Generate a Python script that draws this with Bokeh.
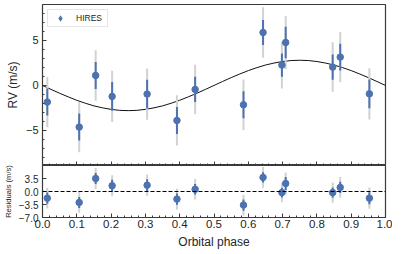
import numpy as np
from bokeh.plotting import figure
from bokeh.layouts import column
from bokeh.models import (ColumnDataSource, FixedTicker, CustomJSTickFormatter,
                          Legend, LegendItem, Span, Range1d)
from bokeh.embed import file_html
from bokeh.resources import INLINE

# ---- data ----
phase = [0.014, 0.107, 0.155, 0.203, 0.305, 0.392, 0.445,
         0.586, 0.643, 0.698, 0.709, 0.846, 0.868, 0.953]
rv = [-1.85, -4.63, 1.11, -1.22, -0.96, -3.89, -0.44,
      -2.15, 5.89, 2.26, 4.78, 2.04, 3.15, -0.93]
resid = [-1.8, -2.95, 3.5, 1.55, 1.7, -2.05, 0.6,
         -3.65, 3.8, -0.3, 2.15, -0.3, 1.1, -1.8]
err_meas = [1.5, 1.5, 1.5, 1.6, 1.6, 1.5, 1.4, 1.5, 1.4, 1.3, 1.75, 1.4, 1.5, 1.6]
err_tot = [2.8, 2.8, 2.8, 2.85, 2.85, 2.8, 2.75, 2.8, 2.8, 2.6, 2.95, 2.75, 2.8, 2.85]

model_phase = list(np.linspace(0.0, 1.0, 41))
model_rv = [0.0, -0.44, -0.87, -1.27, -1.65, -1.98, -2.27, -2.49, -2.66, -2.77,
            -2.80, -2.77, -2.66, -2.49, -2.27, -1.98, -1.65, -1.27, -0.87, -0.44,
            0.0, 0.44, 0.87, 1.27, 1.65, 1.98, 2.27, 2.49, 2.66, 2.77,
            2.80, 2.77, 2.66, 2.49, 2.27, 1.98, 1.65, 1.27, 0.87, 0.44, 0.0]

x_ticks = [0.0, 0.1, 0.2, 0.3, 0.4, 0.5, 0.6, 0.7, 0.8, 0.9, 1.0]
x_minor = [round(i * 0.02, 2) for i in range(51)]
rv_ticks = [-5, 0, 5]
rv_minor = list(range(-8, 9))
res_ticks = [-7.0, -3.5, 0.0, 3.5]
series_label = "HIRES"

BLUE = "#4C72B0"
GRAY = "#d2d2d2"
FRAME = "#3a3a3a"
TEXT = "#262626"
FONT = "Liberation Sans"

src = ColumnDataSource(dict(
    x=phase, rv=rv, res=resid,
    rv_lo_t=[v - e for v, e in zip(rv, err_tot)], rv_hi_t=[v + e for v, e in zip(rv, err_tot)],
    rv_lo_m=[v - e for v, e in zip(rv, err_meas)], rv_hi_m=[v + e for v, e in zip(rv, err_meas)],
    res_lo_t=[v - e for v, e in zip(resid, err_tot)], res_hi_t=[v + e for v, e in zip(resid, err_tot)],
    res_lo_m=[v - e for v, e in zip(resid, err_meas)], res_hi_m=[v + e for v, e in zip(resid, err_meas)],
))


def style_axes(p, show_x_labels):
    for ax in p.axis:
        ax.axis_line_color = None
        ax.major_tick_line_color = FRAME
        ax.minor_tick_line_color = FRAME
        ax.major_tick_out = 0
        ax.minor_tick_out = 0
        ax.major_tick_in = 4
        ax.minor_tick_in = 2
        ax.major_label_text_font = FONT
        ax.major_label_text_color = TEXT
        ax.axis_label_text_font = FONT
        ax.axis_label_text_color = TEXT
        ax.axis_label_text_font_style = "normal"
    p.xaxis.ticker = FixedTicker(ticks=x_ticks, minor_ticks=x_minor)
    p.xaxis.formatter = CustomJSTickFormatter(code="return tick.toFixed(1).replace('-', '\u2212')")
    if not show_x_labels:
        p.xaxis.major_label_text_font_size = "0px"
        p.xaxis.major_label_text_color = None
        p.xaxis.major_label_standoff = 0
    p.xgrid.visible = False
    p.ygrid.visible = False
    p.outline_line_color = FRAME
    p.outline_line_width = 1.2
    p.background_fill_color = "white"
    p.border_fill_color = "white"


# ---- top panel ----
p1 = figure(width=392, height=165, x_range=Range1d(0, 1), y_range=Range1d(-8.9, 9.0),
            output_backend="svg", toolbar_location=None,
            min_border_left=37, min_border_right=7, min_border_top=4, min_border_bottom=0)
style_axes(p1, False)
p1.yaxis.ticker = FixedTicker(ticks=rv_ticks, minor_ticks=rv_minor)
p1.yaxis.formatter = CustomJSTickFormatter(code="return tick.toFixed(0).replace('-', '\u2212')")
p1.yaxis.major_label_text_font_size = "11px"
p1.yaxis.major_label_standoff = 4
p1.yaxis.axis_label = "RV (m/s)"
p1.yaxis.axis_label_text_font_size = "12px"
p1.yaxis.axis_label_standoff = 3

p1.line(model_phase, model_rv, line_color="#111111", line_width=1.0)
p1.segment(x0="x", y0="rv_lo_t", x1="x", y1="rv_hi_t", source=src, line_color=GRAY, line_width=2)
p1.segment(x0="x", y0="rv_lo_m", x1="x", y1="rv_hi_m", source=src, line_color=BLUE, line_width=2)
# legend proxy: a diamond on the same points, fully covered by the circles
proxy = p1.scatter(x="x", y="rv", source=src, marker="diamond", size=6.5,
                   fill_color=BLUE, line_color=None)
pts = p1.scatter(x="x", y="rv", source=src, marker="circle", size=6.5,
                 fill_color=BLUE, line_color=BLUE)

legend = Legend(items=[LegendItem(label=series_label, renderers=[proxy])],
                location="top_left", margin=5, padding=0, spacing=0,
                glyph_width=24, glyph_height=16, label_height=10, label_standoff=4,
                label_width=31,
                label_text_font=FONT, label_text_font_size="8.5px", label_text_color=TEXT,
                border_line_color="#cccccc", border_line_width=1,
                background_fill_color="white", background_fill_alpha=0.9)
p1.add_layout(legend)

# ---- residual panel ----
p2 = figure(width=392, height=86, x_range=p1.x_range, y_range=Range1d(-7.0, 7.0),
            output_backend="svg", toolbar_location=None,
            min_border_left=37, min_border_right=7, min_border_top=0, min_border_bottom=0)
style_axes(p2, True)
p2.yaxis.ticker = FixedTicker(ticks=res_ticks, minor_ticks=[])
p2.yaxis.formatter = CustomJSTickFormatter(code="return tick.toFixed(1).replace('-', '\u2212')")
p2.yaxis.major_label_text_font_size = "10px"
p2.yaxis.major_label_standoff = 4
p2.yaxis.axis_label = "Residuals (m/s)"
p2.yaxis.axis_label_text_font_size = "7.6px"
p2.yaxis.axis_label_standoff = 3
p2.xaxis.major_label_text_font_size = "11.5px"
p2.xaxis.major_label_standoff = 2
p2.xaxis.axis_label = "Orbital phase"
p2.xaxis.axis_label_text_font_size = "12px"
p2.xaxis.axis_label_standoff = 4

p2.add_layout(Span(location=0, dimension="width", line_color="black",
                   line_width=1, line_dash="4 2"))
p2.segment(x0="x", y0="res_lo_t", x1="x", y1="res_hi_t", source=src, line_color=GRAY, line_width=2)
p2.segment(x0="x", y0="res_lo_m", x1="x", y1="res_hi_m", source=src, line_color=BLUE, line_width=2)
p2.scatter(x="x", y="res", source=src, marker="circle", size=6.5, fill_color=BLUE, line_color=BLUE)

layout = column(p1, p2)
open("out.html", "w").write(file_html(layout, INLINE))
